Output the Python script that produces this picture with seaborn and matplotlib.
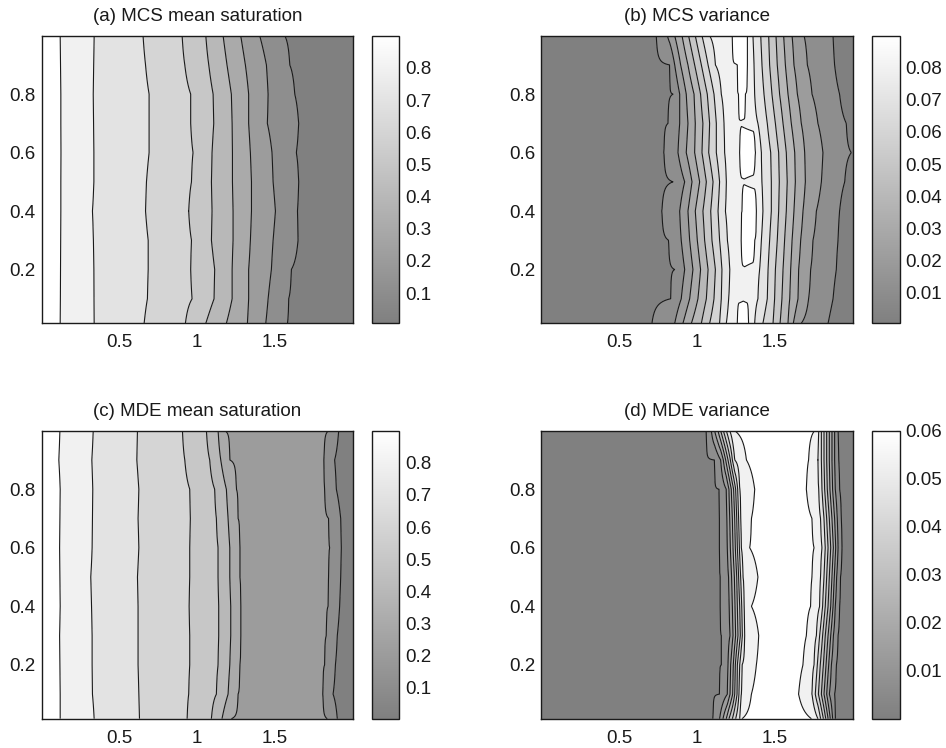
import numpy as np
import matplotlib
matplotlib.use("Agg")
import matplotlib.pyplot as plt
import seaborn as sns
from matplotlib.cm import ScalarMappable
from matplotlib.colors import Normalize
from matplotlib.ticker import FormatStrFormatter

# ---------------- data ----------------
# rows of the grid (y), top to bottom, shared by all panels
y_rows = [1.0, 0.9, 0.8, 0.7, 0.6, 0.5, 0.4, 0.3, 0.2, 0.1, 0.016]

# (a) MCS mean saturation: x position of each iso-line in every row
a_levels = [0.81, 0.72, 0.63, 0.54, 0.45, 0.36, 0.27, 0.18, 0.09]
a_edges = [0.88, 0.004]          # value at x=0 and at x=2
a_lines = [
    [0.120, 0.122, 0.124, 0.124, 0.125, 0.124, 0.124, 0.123, 0.122, 0.121, 0.120],
    [0.338, 0.335, 0.332, 0.334, 0.336, 0.336, 0.327, 0.333, 0.336, 0.337, 0.338],
    [0.652, 0.668, 0.691, 0.691, 0.691, 0.674, 0.668, 0.685, 0.685, 0.680, 0.659],
    [0.903, 0.920, 0.958, 0.958, 0.973, 0.963, 0.945, 0.963, 0.958, 0.967, 0.924],
    [1.055, 1.074, 1.102, 1.106, 1.095, 1.091, 1.095, 1.091, 1.112, 1.108, 1.055],
    [1.166, 1.191, 1.219, 1.224, 1.226, 1.226, 1.230, 1.230, 1.224, 1.224, 1.187],
    [1.279, 1.309, 1.330, 1.330, 1.341, 1.348, 1.348, 1.341, 1.330, 1.330, 1.322],
    [1.401, 1.444, 1.455, 1.450, 1.480, 1.487, 1.502, 1.487, 1.476, 1.455, 1.440],
    [1.562, 1.594, 1.626, 1.651, 1.636, 1.651, 1.643, 1.647, 1.604, 1.587, 1.579],
]

# (b) MCS variance: rising iso-lines (left), island of the peak, falling iso-lines (right)
b_levels = [0.009, 0.018, 0.027, 0.036, 0.045, 0.054, 0.063, 0.072]
b_peak = [0.081, 0.100, 0.079]    # island level, island top, peak where no island
b_left = [
    [0.738, 0.824, 0.845, 0.813, 0.787, 0.845, 0.774, 0.817, 0.856, 0.830, 0.710],
    [0.809, 0.856, 0.888, 0.888, 0.877, 0.920, 0.888, 0.898, 0.920, 0.898, 0.856],
    [0.856, 0.894, 0.930, 0.941, 0.930, 0.967, 0.941, 0.952, 0.973, 0.952, 0.909],
    [0.903, 0.941, 0.980, 0.988, 0.984, 1.016, 0.988, 1.001, 1.022, 1.005, 0.963],
    [0.945, 0.984, 1.022, 1.037, 1.031, 1.059, 1.037, 1.048, 1.070, 1.059, 1.027],
    [0.988, 1.027, 1.065, 1.080, 1.074, 1.102, 1.087, 1.095, 1.117, 1.108, 1.080],
    [1.031, 1.070, 1.108, 1.123, 1.123, 1.144, 1.134, 1.144, 1.159, 1.155, 1.144],
    [1.080, 1.117, 1.155, 1.172, 1.176, 1.187, 1.181, 1.194, 1.209, 1.202, 1.187],
]
b_island_left = [1.226, 1.258, 1.266, np.nan, 1.273, np.nan, 1.288, 1.283, np.nan, np.nan, 1.258]
b_island_right = [1.322, 1.322, 1.309, np.nan, 1.373, np.nan, 1.380, 1.369, np.nan, np.nan, 1.330]
b_right = [  # from level 0.072 down to 0.009
    [1.358, 1.365, 1.369, 1.390, 1.412, 1.416, 1.422, 1.412, 1.401, 1.390, 1.369],
    [1.408, 1.416, 1.429, 1.450, 1.472, 1.476, 1.476, 1.465, 1.455, 1.450, 1.422],
    [1.459, 1.465, 1.480, 1.502, 1.523, 1.527, 1.523, 1.514, 1.502, 1.497, 1.487],
    [1.506, 1.514, 1.529, 1.551, 1.572, 1.578, 1.572, 1.561, 1.551, 1.544, 1.532],
    [1.555, 1.566, 1.583, 1.604, 1.626, 1.630, 1.621, 1.609, 1.600, 1.594, 1.583],
    [1.609, 1.621, 1.643, 1.668, 1.690, 1.694, 1.679, 1.664, 1.651, 1.647, 1.617],
    [1.686, 1.707, 1.737, 1.775, 1.807, 1.797, 1.765, 1.743, 1.728, 1.715, 1.668],
    [1.872, 1.882, 1.914, 1.957, 1.989, 1.947, 1.914, 1.904, 1.893, 1.872, 1.840],
]

# (c) MDE mean saturation
c_levels = [0.81, 0.72, 0.63, 0.54, 0.45, 0.36, 0.27, 0.18, 0.09]
c_edges = [0.88, 0.004]
c_lines = [
    [0.118, 0.111, 0.120, 0.118, 0.116, 0.118, 0.120, 0.116, 0.118, 0.120, 0.120],
    [0.332, 0.323, 0.329, 0.327, 0.325, 0.316, 0.321, 0.325, 0.325, 0.327, 0.338],
    [0.616, 0.612, 0.625, 0.620, 0.625, 0.616, 0.620, 0.620, 0.620, 0.625, 0.629],
    [0.905, 0.920, 0.952, 0.956, 0.952, 0.952, 0.948, 0.952, 0.952, 0.945, 0.935],
    [1.059, 1.080, 1.112, 1.123, 1.134, 1.134, 1.138, 1.138, 1.134, 1.123, 1.091],
    [1.134, 1.151, 1.187, 1.198, 1.209, 1.209, 1.215, 1.215, 1.209, 1.198, 1.159],
    [1.176, 1.209, 1.251, 1.262, 1.273, 1.273, 1.279, 1.279, 1.273, 1.262, 1.219],
    [1.844, 1.814, 1.818, 1.844, 1.850, 1.844, 1.840, 1.829, 1.818, 1.807, 1.835],
    [1.908, 1.882, 1.893, 1.921, 1.925, 1.921, 1.914, 1.899, 1.887, 1.872, 1.899],
]

# (d) MDE variance
d_levels = [0.006, 0.012, 0.018, 0.024, 0.030, 0.036, 0.042, 0.048, 0.054]
d_peak = 0.06
d_left = [  # per row: x of levels 0.006 ... 0.054
    [1.059, 1.091, 1.112, 1.134, 1.151, 1.168, 1.187, 1.209, 1.241],
    [1.112, 1.151, 1.168, 1.183, 1.198, 1.213, 1.226, 1.241, 1.316],
    [1.140, 1.187, 1.204, 1.219, 1.234, 1.247, 1.260, 1.273, 1.369],
    [1.144, 1.191, 1.209, 1.226, 1.241, 1.254, 1.266, 1.279, 1.348],
    [1.144, 1.194, 1.213, 1.230, 1.245, 1.258, 1.271, 1.283, 1.337],
    [1.149, 1.202, 1.221, 1.239, 1.254, 1.266, 1.279, 1.294, 1.390],
    [1.149, 1.206, 1.226, 1.243, 1.258, 1.273, 1.286, 1.301, 1.348],
    [1.155, 1.211, 1.230, 1.247, 1.262, 1.277, 1.290, 1.305, 1.395],
    [1.155, 1.198, 1.215, 1.232, 1.245, 1.258, 1.273, 1.288, 1.380],
    [1.144, 1.194, 1.211, 1.228, 1.241, 1.256, 1.268, 1.283, 1.348],
    [1.102, 1.144, 1.166, 1.187, 1.204, 1.226, 1.247, 1.273, 1.288],
]
d_right = [  # per row: x of levels 0.054 ... 0.006
    [1.754, 1.780, 1.797, 1.814, 1.831, 1.848, 1.865, 1.882, 1.904],
    [1.715, 1.775, 1.797, 1.814, 1.831, 1.848, 1.865, 1.882, 1.908],
    [1.701, 1.780, 1.801, 1.818, 1.835, 1.852, 1.869, 1.886, 1.914],
    [1.737, 1.792, 1.814, 1.831, 1.848, 1.865, 1.882, 1.899, 1.925],
    [1.750, 1.801, 1.822, 1.840, 1.857, 1.874, 1.889, 1.904, 1.929],
    [1.737, 1.792, 1.814, 1.831, 1.848, 1.865, 1.880, 1.895, 1.920],
    [1.728, 1.786, 1.805, 1.822, 1.840, 1.857, 1.872, 1.886, 1.914],
    [1.701, 1.765, 1.786, 1.805, 1.822, 1.840, 1.857, 1.874, 1.904],
    [1.679, 1.750, 1.771, 1.790, 1.810, 1.827, 1.844, 1.861, 1.893],
    [1.651, 1.737, 1.758, 1.778, 1.797, 1.814, 1.831, 1.848, 1.882],
    [1.733, 1.775, 1.792, 1.810, 1.825, 1.840, 1.854, 1.869, 1.886],
]

titles = ["(a) MCS mean saturation", "(b) MCS variance",
          "(c) MDE mean saturation", "(d) MDE variance"]
cbar_ranges = [(0.006, 0.9), (0.0004, 0.09), (0.003, 0.9), (0.0, 0.06)]
cbar_ticks = [[0.1, 0.2, 0.3, 0.4, 0.5, 0.6, 0.7, 0.8],
              [0.01, 0.02, 0.03, 0.04, 0.05, 0.06, 0.07, 0.08],
              [0.1, 0.2, 0.3, 0.4, 0.5, 0.6, 0.7, 0.8],
              [0.01, 0.02, 0.03, 0.04, 0.05, 0.06]]
x_ticks = [0.5, 1, 1.5]
y_ticks = [0.2, 0.4, 0.6, 0.8]

# ---------------- fields ----------------
xg = np.linspace(0.0, 2.0, 801)
nrow = len(y_rows)


def field_mean(lines, levels, edges):
    rows = []
    for k in range(nrow):
        px = [0.0] + [ln[k] for ln in lines] + [2.0]
        pv = [edges[0]] + list(levels) + [edges[1]]
        rows.append(np.interp(xg, px, pv))
    return np.array(rows)


def field_b():
    rows = []
    for k in range(nrow):
        px = [0.0] + [ln[k] for ln in b_left]
        pv = [0.0] + list(b_levels)
        il, ir = b_island_left[k], b_island_right[k]
        if np.isnan(il):
            px += [0.5 * (b_left[-1][k] + b_right[0][k])]
            pv += [b_peak[2]]
        else:
            w = ir - il
            px += [il, il + 0.12 * w, ir - 0.12 * w, ir]
            pv += [b_peak[0], b_peak[1], b_peak[1], b_peak[0]]
        px += [ln[k] for ln in b_right] + [2.0]
        pv += list(b_levels[::-1]) + [0.0]
        rows.append(np.interp(xg, px, pv))
    return np.array(rows)


def field_d():
    rows = []
    for k in range(nrow):
        px = [0.0] + list(d_left[k]) + [0.5 * (d_left[k][-1] + d_right[k][0])] + list(d_right[k]) + [2.0]
        pv = [0.0] + list(d_levels) + [d_peak] + list(d_levels[::-1]) + [0.0]
        rows.append(np.interp(xg, px, pv))
    return np.array(rows)


fields = [
    (field_mean(a_lines, a_levels, a_edges), sorted(a_levels)),
    (field_b(), list(b_levels) + [b_peak[0]]),
    (field_mean(c_lines, c_levels, c_edges), sorted(c_levels)),
    (field_d(), list(d_levels)),
]

# ---------------- drawing ----------------
sns.set_theme(style="white")
plt.rcParams["font.family"] = ["Liberation Sans", "DejaVu Sans"]
FS = 13.5

band_colors = sns.blend_palette(["#808080", "#ffffff"], n_colors=10)
bar_cmap = sns.blend_palette(["#808080", "#ffffff"], as_cmap=True)

fig = plt.figure(figsize=(9.46, 7.48), dpi=100)
W, H = 946.0, 748.0
ax_boxes = [(41.5, 35.7, 353.0, 323.3), (541.3, 35.7, 853.0, 323.3),
            (41.5, 430.7, 353.0, 718.7), (541.3, 430.7, 853.0, 718.7)]
cb_boxes = [(372.3, 35.7, 399.3, 323.3), (872.3, 35.7, 899.7, 323.3),
            (372.3, 430.7, 399.3, 718.7), (872.3, 430.7, 899.7, 718.7)]

X, Y = np.meshgrid(xg, np.array(y_rows))

for i in range(4):
    l, t, r, b = ax_boxes[i]
    ax = fig.add_axes([l / W, 1 - b / H, (r - l) / W, (b - t) / H])
    Z, lev = fields[i]
    bounds = [-1.0] + lev + [2.0]
    ax.contourf(X, Y, Z, levels=bounds, colors=band_colors)
    ax.contour(X, Y, Z, levels=lev, colors="k", linewidths=0.8)
    ax.set_xlim(0, 2)
    ax.set_ylim(0.016, 1.0)
    ax.set_xticks(x_ticks)
    ax.set_xticklabels(["0.5", "1", "1.5"])
    ax.set_yticks(y_ticks)
    ax.set_yticklabels(["0.2", "0.4", "0.6", "0.8"])
    ax.tick_params(axis="x", length=0, pad=8, labelsize=FS, colors="k")
    ax.tick_params(axis="y", length=0, pad=4.5, labelsize=FS, colors="k")
    for sp in ax.spines.values():
        sp.set_visible(True)
        sp.set_color("k")
        sp.set_linewidth(1.0)
    ax.set_title(titles[i], fontsize=FS, pad=10.5, color="k")

    l, t, r, b = cb_boxes[i]
    cax = fig.add_axes([l / W, 1 - b / H, (r - l) / W, (b - t) / H])
    lo, hi = cbar_ranges[i]
    sm = ScalarMappable(norm=Normalize(lo, hi), cmap=bar_cmap)
    cb = fig.colorbar(sm, cax=cax, ticks=cbar_ticks[i])
    cb.outline.set_edgecolor("k")
    cb.outline.set_linewidth(1.0)
    cax.yaxis.set_major_formatter(FormatStrFormatter("%g"))
    cax.tick_params(axis="y", direction="in", length=3, width=0.8, left=True, right=True,
                    labelleft=False, labelright=True, labelsize=FS, pad=4, colors="k")

fig.savefig("out.png", dpi=100, facecolor="white")
